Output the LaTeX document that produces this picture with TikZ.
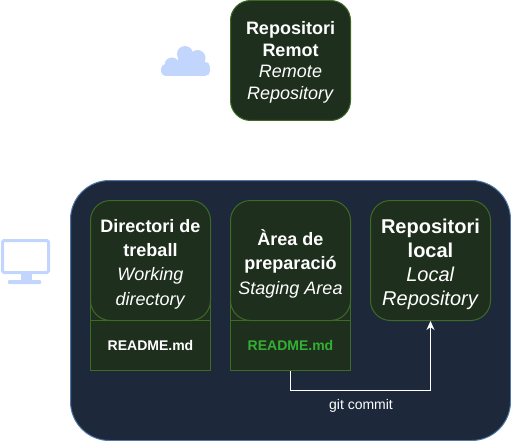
\documentclass[tikz,border=0pt]{standalone}
\usepackage{fontspec}
\setmainfont{Liberation Sans}
\usetikzlibrary{arrows.meta}
\definecolor{boxfill}{HTML}{1F2F1E}
\definecolor{boxline}{HTML}{3D6B23}
\definecolor{panelfill}{HTML}{1D293B}
\definecolor{panelline}{HTML}{5078A8}
\definecolor{iconblue}{HTML}{C1D5FD}
\definecolor{greentext}{HTML}{33B033}
\tikzset{
  x=1pt,y=-1pt,
  panel/.style={draw=panelline,fill=panelfill,line width=1pt,rounded corners=39pt,minimum width=440pt,minimum height=260pt,inner sep=0pt},
  repo/.style={draw=boxline,fill=boxfill,line width=1pt,rounded corners=20pt,minimum width=120pt,minimum height=120pt,inner sep=0pt},
  filebox/.style={draw=boxline,fill=boxfill,line width=1pt,minimum width=120pt,minimum height=50pt,inner sep=0pt,font=\fontsize{14}{16}\selectfont\bfseries},
  backing/.style={draw=boxline,fill=boxfill,line width=1pt},
  big/.style={font=\fontsize{18}{21.6}\selectfont,text=white,align=center,inner sep=0pt},
  wide/.style={font=\fontsize{18}{24.4}\selectfont,text=white,align=center,inner sep=0pt},
  bigger/.style={font=\fontsize{20}{24}\selectfont,text=white,align=center,inner sep=0pt},
  link/.style={draw=white,line width=1pt,-{Stealth[length=9pt,width=8pt]}},
}
\begin{document}
\begin{tikzpicture}
\useasboundingbox (0,0) rectangle (511,441);
\node[panel] (pc) at (290.5,310.5) {};
\node[repo,label={[big,yshift=-2pt]center:\textbf{Repositori}\\\textbf{Remot}\\\textit{Remote}\\\textit{Repository}}] (remote) at (290.5,60.5) {};
\draw[backing] (90.5,296) rectangle (210.5,321);
\node[filebox,text=white] (wfile) at (150.5,345.5) {README.md};
\node[repo,label={[wide,yshift=-3.5pt]center:\textbf{Directori de}\\\textbf{treball}\\\textit{Working}\\\textit{directory}}] (work) at (150.5,260.5) {};
\draw[backing] (230.5,296) rectangle (350.5,321);
\node[filebox,text=greentext] (sfile) at (290.5,345.5) {README.md};
\node[repo,label={[wide,yshift=-3pt]center:\textbf{Àrea de}\\\textbf{preparació}\\\textit{Staging Area}}] (stage) at (290.5,260.5) {};
\node[repo,label={[bigger,yshift=-4pt]center:\textbf{Repositori}\\\textbf{local}\\\textit{Local}\\\textit{Repository}}] (local) at (430.5,260.5) {};
\coordinate (elbowa) at (sfile.south |- 0,390.5);
\coordinate (elbowb) at (local.south |- 0,390.5);
\draw[link] (sfile.south) -- (elbowa) -- (elbowb) -- (local.south);
\node[text=white,font=\fontsize{14}{16}\selectfont,inner sep=0pt] (commit) at (361,406) {git commit};
% cloud icon
\fill[iconblue,rounded corners=5pt] (161,76) rectangle (210,64);
\fill[iconblue] (172,65) circle[radius=7.5pt];
\fill[iconblue] (167,70) circle[radius=6pt];
\fill[iconblue] (185,54) circle[radius=8pt];
\fill[iconblue] (178,55) rectangle (203,66);
\fill[iconblue] (197.5,58) circle[radius=8pt];
\fill[iconblue] (204.5,67) circle[radius=5.5pt];
% monitor icon
\draw[iconblue,line width=3pt,rounded corners=1.5pt] (2.5,240.5) rectangle (48.5,272.5);
\fill[iconblue] (21,273) rectangle (32,280);
\fill[iconblue,rounded corners=1pt] (8,280) rectangle (41,284);
\end{tikzpicture}
\end{document}
